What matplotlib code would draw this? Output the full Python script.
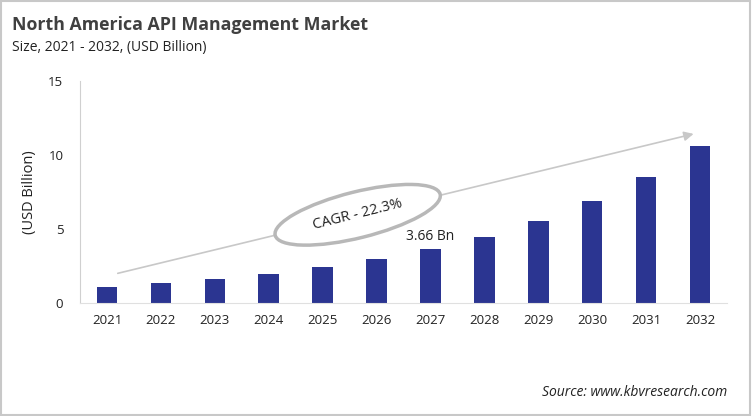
import matplotlib.pyplot as plt
from matplotlib.patches import Ellipse, Rectangle
from matplotlib import transforms

years = ["2021", "2022", "2023", "2024", "2025", "2026",
         "2027", "2028", "2029", "2030", "2031", "2032"]
values = [1.08, 1.35, 1.59, 1.96, 2.40, 2.94, 3.66, 4.45, 5.51, 6.88, 8.48, 10.59]
yticks = [0, 5, 10, 15]

plt.rcParams['font.family'] = ['Open Sans', 'DejaVu Sans']

fig = plt.figure(figsize=(7.52, 4.16), dpi=100)
ax = fig.add_axes([80 / 752, (416 - 303) / 416, (727 - 80) / 752, (303 - 81) / 416])

x = list(range(len(years)))
ax.bar(x, values, width=0.38, color="#2b3591")

ax.set_xlim(-0.5, len(years) - 0.5)
ax.set_ylim(0, 15)
ax.set_yticks(yticks)
ax.set_xticks(x)
ax.set_xticklabels(years)
ax.tick_params(length=0, labelsize=9.5, colors="#222222")
ax.tick_params(axis="y", pad=12)
ax.tick_params(axis="x", pad=8)
for s in ["top", "right"]:
    ax.spines[s].set_visible(False)
ax.spines["left"].set_color("#d0d0d0")
ax.spines["bottom"].set_color("#e0e0e0")
ax.set_ylabel("(USD Billion)", fontsize=10.5, color="#222222", labelpad=8)

# label on 2027 bar
ax.text(6, values[6] + 0.35, "3.66 Bn", ha="center", va="bottom", fontsize=10, color="#222222")

# growth arrow
ax.annotate("", xy=(10.93, 11.47), xytext=(0.15, 1.96),
            arrowprops=dict(arrowstyle="-|>", color="#c8c8c8", lw=1.2, mutation_scale=14))

# CAGR ellipse, sized in pixels around a data-space centre
cx, cy = 4.65, 5.96
ell = Ellipse((0, 0), width=170, height=46, angle=14, facecolor="white",
              edgecolor="#b8b8b8", lw=2.5, zorder=3,
              transform=transforms.ScaledTranslation(cx, cy, ax.transData))
ax.add_patch(ell)
ax.text(cx, cy, "CAGR - 22.3%", rotation=14, ha="center", va="center",
        fontsize=10.5, color="#222222", zorder=4)

fig.text(12 / 752, 1 - 25 / 416, "North America API Management Market", fontsize=12.8,
         fontweight="bold", color="#404040", va="center")
fig.text(12 / 752, 1 - 47 / 416, "Size, 2021 - 2032, (USD Billion)", fontsize=10,
         color="#222222", va="center")
fig.text(727 / 752, 1 - 392 / 416, "Source: www.kbvresearch.com", fontsize=10,
         style="italic", color="#222222", ha="right", va="center")

fig.patches.append(Rectangle((0.001, 0.002), 0.997, 0.996, transform=fig.transFigure,
                             fill=False, edgecolor="#c8c8c8", lw=1.5))

fig.savefig("out.png", dpi=100)
